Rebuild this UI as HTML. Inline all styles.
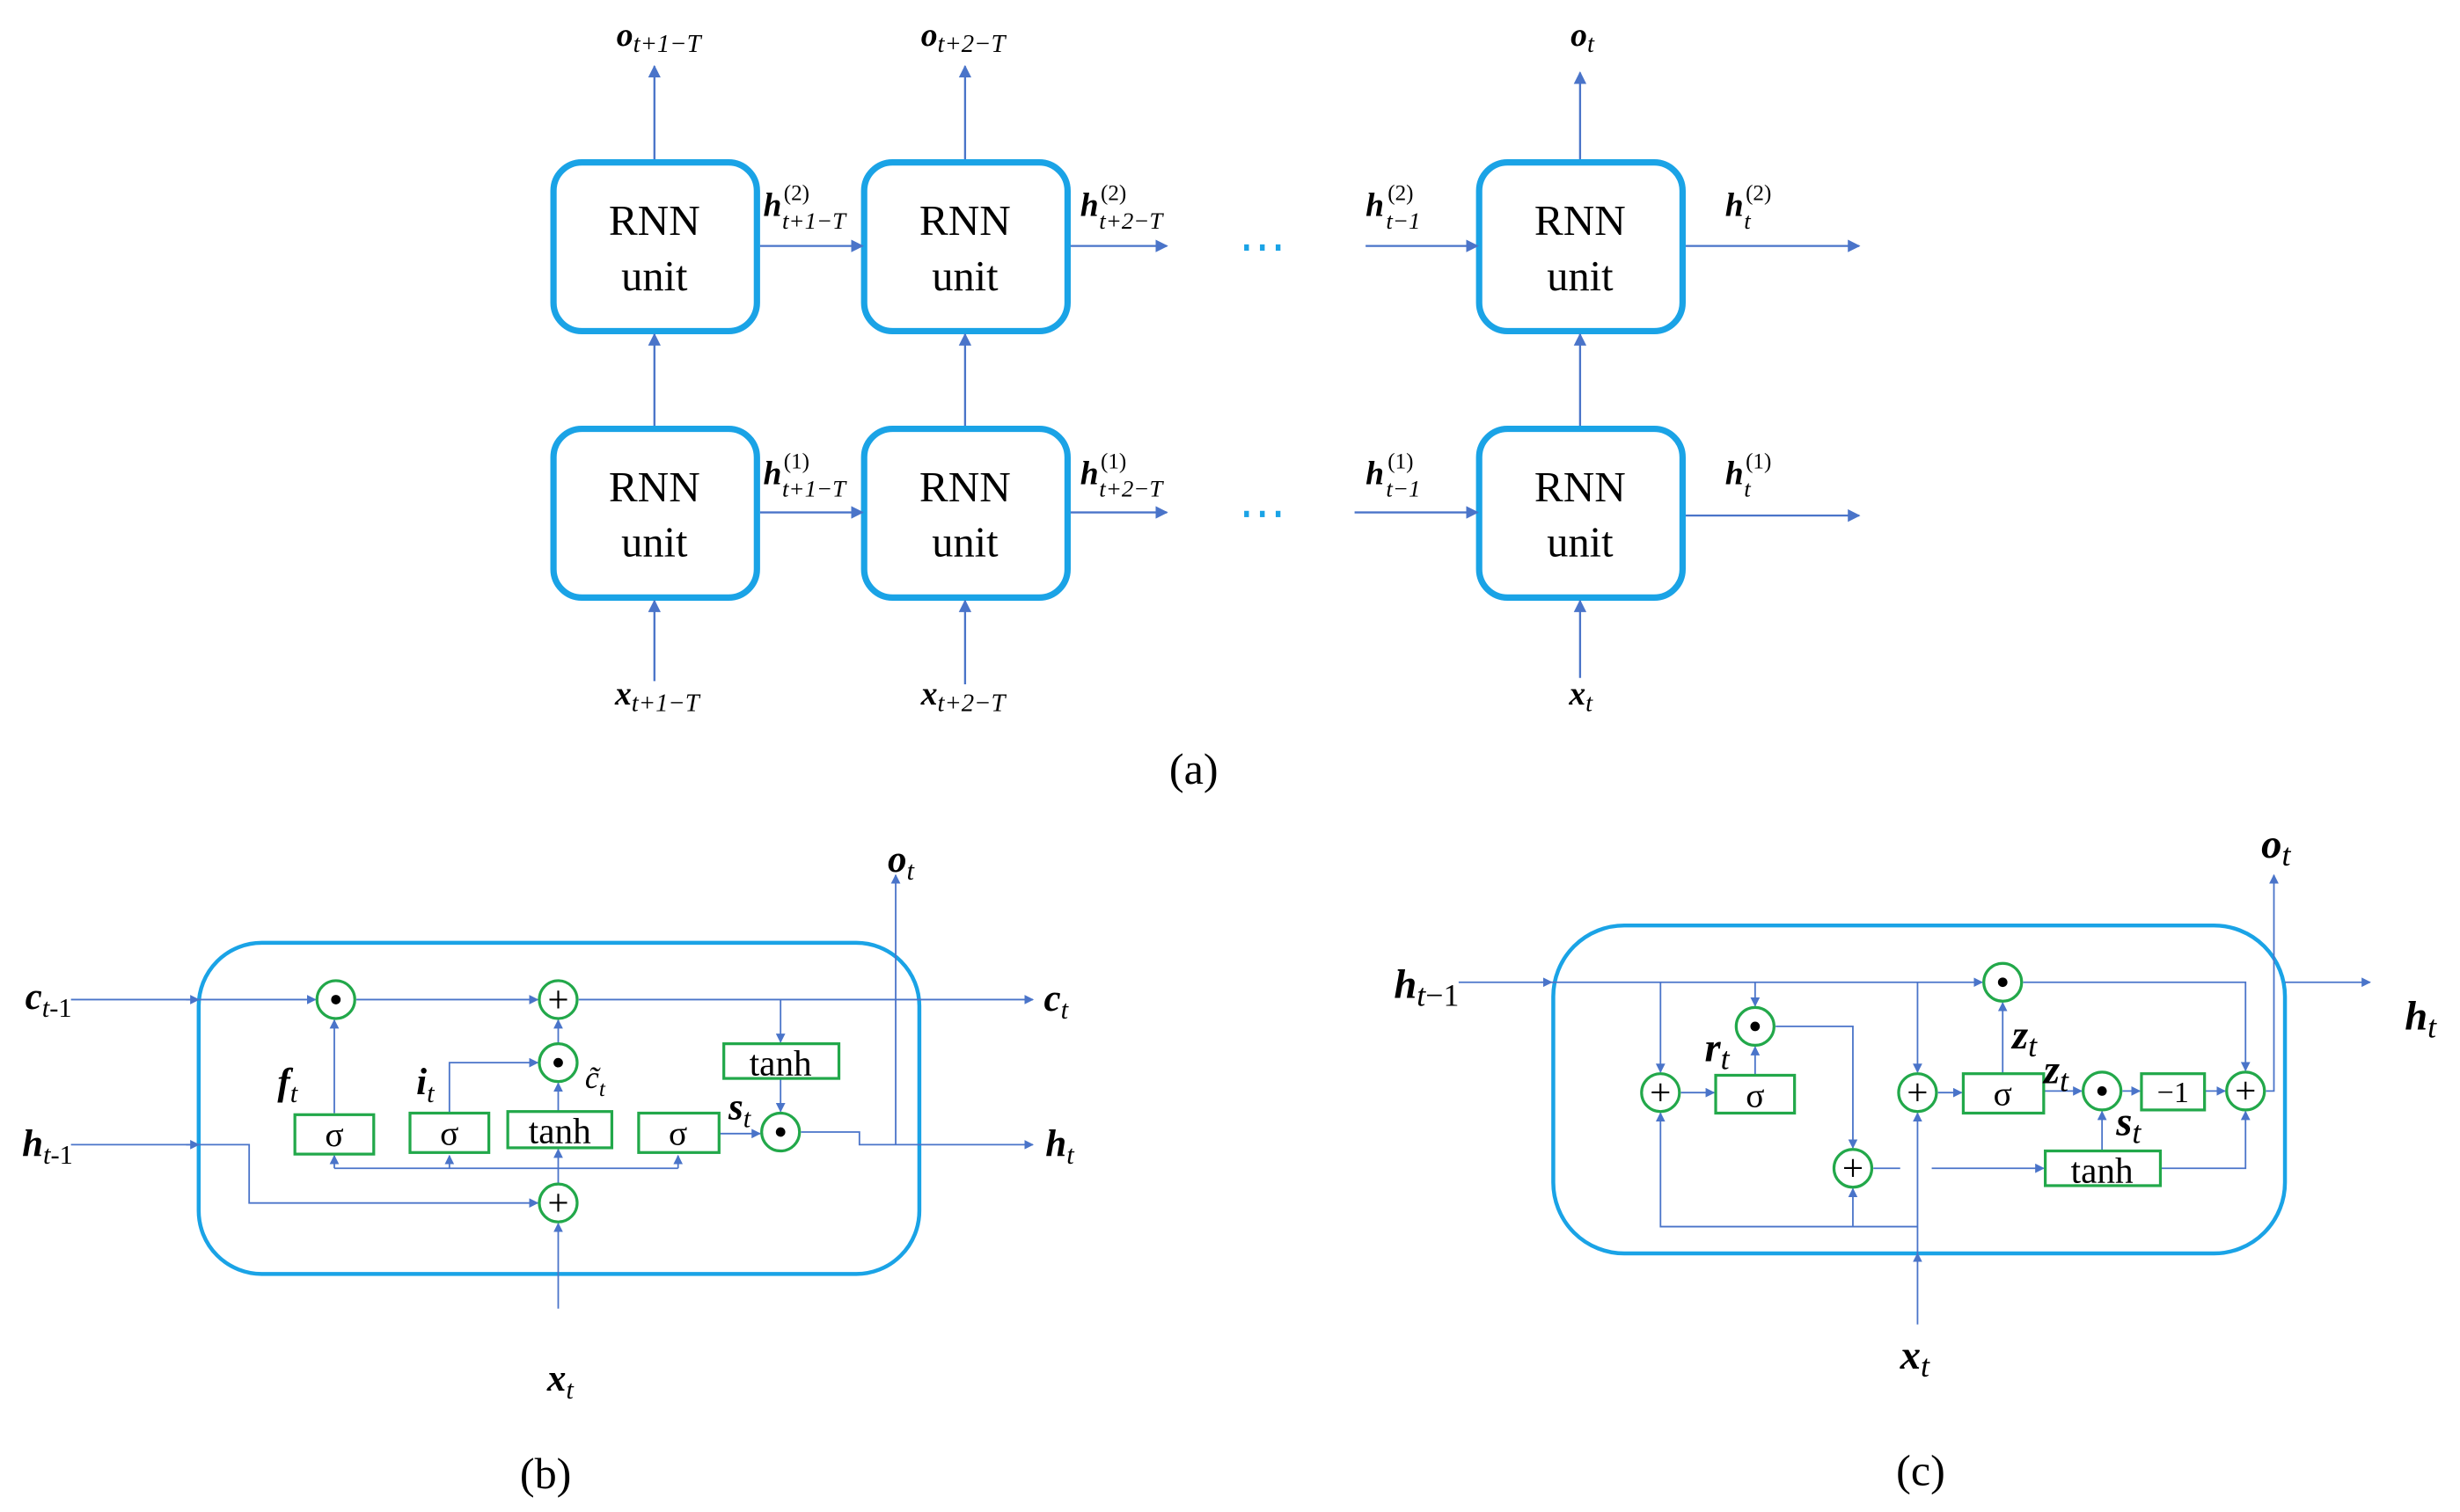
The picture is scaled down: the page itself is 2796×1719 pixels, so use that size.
<!DOCTYPE html>
<html><head><meta charset="utf-8"><style>
html,body{margin:0;padding:0;background:#fff;}
svg{display:block;}
text{font-family:"Liberation Serif",serif;fill:#000;}
.v{font-weight:bold;font-style:italic;}
.s{font-style:italic;font-weight:normal;}
.box{fill:#fff;stroke:#1aa3e6;stroke-width:4;}
.bigbox{fill:none;stroke:#1aa3e6;stroke-width:2.5;}
.ln{fill:none;stroke:#4a74c9;stroke-width:1.3;}
.ln2{fill:none;stroke:#4a74c9;stroke-width:1;}
.g{fill:#fff;stroke:#22a84a;stroke-width:1.8;}
</style></head><body>
<svg width="2796" height="1719" viewBox="0 0 1560 959" preserveAspectRatio="none" xmlns="http://www.w3.org/2000/svg">
<defs>
<marker id="a" viewBox="0 0 10 10" refX="9" refY="5" markerWidth="8" markerHeight="8" markerUnits="userSpaceOnUse" orient="auto"><path d="M0,0L10,5L0,10z" fill="#4a74c9"/></marker>
<marker id="s" viewBox="0 0 10 10" refX="9" refY="5" markerWidth="6" markerHeight="6" markerUnits="userSpaceOnUse" orient="auto"><path d="M0,0L10,5L0,10z" fill="#4a74c9"/></marker>
</defs>

<!-- (a) -->
<g>
<rect class="box" x="351" y="103" width="129" height="107" rx="18"/>
<rect class="box" x="548" y="103" width="129" height="107" rx="18"/>
<rect class="box" x="938" y="103" width="129" height="107" rx="18"/>
<rect class="box" x="351" y="272" width="129" height="107" rx="18"/>
<rect class="box" x="548" y="272" width="129" height="107" rx="18"/>
<rect class="box" x="938" y="272" width="129" height="107" rx="18"/>
<g font-size="27" text-anchor="middle">
<text x="415" y="149" textLength="58" lengthAdjust="spacingAndGlyphs">RNN</text><text x="415" y="184">unit</text>
<text x="612" y="149" textLength="58" lengthAdjust="spacingAndGlyphs">RNN</text><text x="612" y="184">unit</text>
<text x="1002" y="149" textLength="58" lengthAdjust="spacingAndGlyphs">RNN</text><text x="1002" y="184">unit</text>
<text x="415" y="318" textLength="58" lengthAdjust="spacingAndGlyphs">RNN</text><text x="415" y="353">unit</text>
<text x="612" y="318" textLength="58" lengthAdjust="spacingAndGlyphs">RNN</text><text x="612" y="353">unit</text>
<text x="1002" y="318" textLength="58" lengthAdjust="spacingAndGlyphs">RNN</text><text x="1002" y="353">unit</text>
</g>
<g class="ln">
<path d="M415,101V42" marker-end="url(#a)"/><path d="M612,101V42" marker-end="url(#a)"/><path d="M1002,101V46" marker-end="url(#a)"/>
<path d="M415,270V212" marker-end="url(#a)"/><path d="M612,270V212" marker-end="url(#a)"/><path d="M1002,270V212" marker-end="url(#a)"/>
<path d="M415,432V381" marker-end="url(#a)"/><path d="M612,434V381" marker-end="url(#a)"/><path d="M1002,430V381" marker-end="url(#a)"/>
<path d="M482,156H547" marker-end="url(#a)"/><path d="M679,156H740" marker-end="url(#a)"/><path d="M866,156H937" marker-end="url(#a)"/><path d="M1069,156H1179" marker-end="url(#a)"/>
<path d="M482,325H547" marker-end="url(#a)"/><path d="M679,325H740" marker-end="url(#a)"/><path d="M859,325H937" marker-end="url(#a)"/><path d="M1069,327H1179" marker-end="url(#a)"/>
</g>
<g fill="#1aa3e6"><rect x="789" y="155" width="3" height="4"/><rect x="799" y="155" width="3" height="4"/><rect x="809" y="155" width="3" height="4"/>
<rect x="789" y="324" width="3" height="4"/><rect x="799" y="324" width="3" height="4"/><rect x="809" y="324" width="3" height="4"/></g>
<g font-size="21">
<text x="391" y="29"><tspan class="v">o</tspan><tspan class="s" font-size="16" dy="4">t+1−T</tspan></text>
<text x="584" y="29"><tspan class="v">o</tspan><tspan class="s" font-size="16" dy="4">t+2−T</tspan></text>
<text x="996" y="29"><tspan class="v">o</tspan><tspan class="s" font-size="16" dy="4">t</tspan></text>
<text x="390" y="447"><tspan class="v">x</tspan><tspan class="s" font-size="16" dy="4">t+1−T</tspan></text>
<text x="584" y="447"><tspan class="v">x</tspan><tspan class="s" font-size="16" dy="4">t+2−T</tspan></text>
<text x="995" y="447"><tspan class="v">x</tspan><tspan class="s" font-size="16" dy="4">t</tspan></text>
</g>
<g font-size="21">
<text x="484" y="137" class="v">h</text><text x="497" y="127" font-size="14">(2)</text><text x="496" y="145" font-size="15" class="s">t+1−T</text>
<text x="685" y="137" class="v">h</text><text x="698" y="127" font-size="14">(2)</text><text x="697" y="145" font-size="15" class="s">t+2−T</text>
<text x="866" y="137" class="v">h</text><text x="880" y="127" font-size="14">(2)</text><text x="879" y="145" font-size="15" class="s">t−1</text>
<text x="1094" y="137" class="v">h</text><text x="1107" y="127" font-size="14">(2)</text><text x="1106" y="145" font-size="15" class="s">t</text>
<text x="484" y="307" class="v">h</text><text x="497" y="297" font-size="14">(1)</text><text x="496" y="315" font-size="15" class="s">t+1−T</text>
<text x="685" y="307" class="v">h</text><text x="698" y="297" font-size="14">(1)</text><text x="697" y="315" font-size="15" class="s">t+2−T</text>
<text x="866" y="307" class="v">h</text><text x="880" y="297" font-size="14">(1)</text><text x="879" y="315" font-size="15" class="s">t−1</text>
<text x="1094" y="307" class="v">h</text><text x="1107" y="297" font-size="14">(1)</text><text x="1106" y="315" font-size="15" class="s">t</text>
</g>
<text x="757" y="497" font-size="28" text-anchor="middle">(a)</text>
</g>

<!-- (b) LSTM -->
<g>
<rect class="bigbox" x="126" y="598" width="457" height="210" rx="40"/>
<g class="ln2">
<path d="M45,634H200" marker-end="url(#s)"/>
<path d="M226,634H341" marker-end="url(#s)"/>
<path d="M367,634H655" marker-end="url(#s)"/>
<path d="M495,634V661" marker-end="url(#s)"/>
<path d="M495,684V705" marker-end="url(#s)"/>
<path d="M45,726H158V763H341" marker-end="url(#s)"/>
<path d="M354,830V776" marker-end="url(#s)"/>
<path d="M354,751V729" marker-end="url(#s)"/>
<path d="M354,705V687" marker-end="url(#s)"/>
<path d="M354,662V647" marker-end="url(#s)"/>
<path d="M212,706V647" marker-end="url(#s)"/>
<path d="M285,706V674H341" marker-end="url(#s)"/>
<path d="M212,741H430"/>
<path d="M212,741V733" marker-end="url(#s)"/><path d="M285,741V733" marker-end="url(#s)"/><path d="M430,741V733" marker-end="url(#s)"/>
<path d="M456,719H482" marker-end="url(#s)"/>
<path d="M508,718H545V726H655" marker-end="url(#s)"/>
<path d="M568,726V555" marker-end="url(#s)"/>
<path d="M118,634h8" marker-end="url(#s)"/><path d="M118,726h8" marker-end="url(#s)"/>
</g>
<rect class="g" x="187" y="707" width="50" height="25"/><text x="212" y="727" font-size="22" text-anchor="middle">σ</text>
<rect class="g" x="260" y="706" width="50" height="25"/><text x="285" y="726" font-size="22" text-anchor="middle">σ</text>
<rect class="g" x="322" y="705" width="66" height="23"/><text x="355" y="725" font-size="23" text-anchor="middle">tanh</text>
<rect class="g" x="405" y="706" width="51" height="25"/><text x="430" y="726" font-size="22" text-anchor="middle">σ</text>
<rect class="g" x="459" y="662" width="73" height="22"/><text x="495" y="682" font-size="23" text-anchor="middle">tanh</text>
<g font-size="24" text-anchor="middle">
<circle class="g" cx="213" cy="634" r="12"/><circle cx="213" cy="634" r="3"/>
<circle class="g" cx="354" cy="634" r="12"/><text x="354" y="642">+</text>
<circle class="g" cx="354" cy="674" r="12"/><circle cx="354" cy="674" r="3"/>
<circle class="g" cx="354" cy="763" r="12"/><text x="354" y="771">+</text>
<circle class="g" cx="495" cy="718" r="12"/><circle cx="495" cy="718" r="3"/>
</g>
<g font-size="24">
<text x="16" y="640"><tspan class="v">c</tspan><tspan class="s" font-size="17" dy="5">t</tspan><tspan font-size="17">-1</tspan></text>
<text x="14" y="733"><tspan class="v">h</tspan><tspan class="s" font-size="17" dy="5">t</tspan><tspan font-size="17">-1</tspan></text>
<text x="662" y="641"><tspan class="v">c</tspan><tspan class="s" font-size="17" dy="5">t</tspan></text>
<text x="663" y="733"><tspan class="v">h</tspan><tspan class="s" font-size="17" dy="5">t</tspan></text>
<text x="563" y="553"><tspan class="v">o</tspan><tspan class="s" font-size="17" dy="5">t</tspan></text>
<text x="347" y="882"><tspan class="v">x</tspan><tspan class="s" font-size="17" dy="5">t</tspan></text>
<text x="176" y="694"><tspan class="v">f</tspan><tspan class="s" font-size="17" dy="5">t</tspan></text>
<text x="264" y="694"><tspan class="v">i</tspan><tspan class="s" font-size="17" dy="5">t</tspan></text>
<text x="462" y="710"><tspan class="v">s</tspan><tspan class="s" font-size="17" dy="5">t</tspan></text>
<text x="371" y="690" font-size="20" class="s">c̃<tspan font-size="14" dy="5">t</tspan></text>
</g>
<text x="346" y="944" font-size="28" text-anchor="middle">(b)</text>
</g>

<!-- (c) GRU -->
<g>
<rect class="bigbox" x="985" y="587" width="464" height="208" rx="45"/>
<g class="ln2">
<path d="M925,623H1257" marker-end="url(#s)"/>
<path d="M1283,623H1424V679" marker-end="url(#s)"/>
<path d="M1053,623V680" marker-end="url(#s)"/>
<path d="M1113,623V638" marker-end="url(#s)"/>
<path d="M1216,623V680" marker-end="url(#s)"/>
<path d="M1066,693H1087" marker-end="url(#s)"/>
<path d="M1113,682V664" marker-end="url(#s)"/>
<path d="M1126,651H1175V728" marker-end="url(#s)"/>
<path d="M1216,840V706" marker-end="url(#s)"/>
<path d="M1216,778H1053V706" marker-end="url(#s)"/>
<path d="M1175,778V754" marker-end="url(#s)"/>
<path d="M1229,693H1244" marker-end="url(#s)"/>
<path d="M1270,681V636" marker-end="url(#s)"/>
<path d="M1296,692H1320" marker-end="url(#s)"/>
<path d="M1346,692H1357" marker-end="url(#s)"/>
<path d="M1398,692H1411" marker-end="url(#s)"/>
<path d="M1188,741H1205"/>
<path d="M1225,741H1296" marker-end="url(#s)"/>
<path d="M1333,730V705" marker-end="url(#s)"/>
<path d="M1370,741H1424V705" marker-end="url(#s)"/>
<path d="M1437,692H1442V555" marker-end="url(#s)"/>
<path d="M1449,623H1503" marker-end="url(#s)"/>
<path d="M977,623h7" marker-end="url(#s)"/>
<path d="M1216,800v-5" marker-end="url(#s)"/>
</g>
<rect class="g" x="1088" y="682" width="50" height="24"/><text x="1113" y="702" font-size="22" text-anchor="middle">σ</text>
<rect class="g" x="1245" y="681" width="51" height="25"/><text x="1270" y="701" font-size="22" text-anchor="middle">σ</text>
<rect class="g" x="1358" y="681" width="40" height="23"/><text x="1378" y="699" font-size="19" text-anchor="middle">−1</text>
<rect class="g" x="1297" y="730" width="73" height="22"/><text x="1333" y="750" font-size="23" text-anchor="middle">tanh</text>
<g font-size="24" text-anchor="middle">
<circle class="g" cx="1053" cy="693" r="12"/><text x="1053" y="701">+</text>
<circle class="g" cx="1113" cy="651" r="12"/><circle cx="1113" cy="651" r="3"/>
<circle class="g" cx="1175" cy="741" r="12"/><text x="1175" y="749">+</text>
<circle class="g" cx="1216" cy="693" r="12"/><text x="1216" y="701">+</text>
<circle class="g" cx="1270" cy="623" r="12"/><circle cx="1270" cy="623" r="3"/>
<circle class="g" cx="1333" cy="692" r="12"/><circle cx="1333" cy="692" r="3"/>
<circle class="g" cx="1424" cy="692" r="12"/><text x="1424" y="700">+</text>
</g>
<g font-size="26">
<text x="884" y="633"><tspan class="v">h</tspan><tspan class="s" font-size="20" dy="5">t</tspan><tspan font-size="20">−1</tspan></text>
<text x="1525" y="653"><tspan class="v">h</tspan><tspan class="s" font-size="20" dy="5">t</tspan></text>
<text x="1434" y="544"><tspan class="v">o</tspan><tspan class="s" font-size="20" dy="5">t</tspan></text>
<text x="1205" y="868"><tspan class="v">x</tspan><tspan class="s" font-size="20" dy="5">t</tspan></text>
<text x="1081" y="673"><tspan class="v">r</tspan><tspan class="s" font-size="20" dy="5">t</tspan></text>
<text x="1276" y="665"><tspan class="v">z</tspan><tspan class="s" font-size="20" dy="5">t</tspan></text>
<text x="1296" y="687"><tspan class="v">z</tspan><tspan class="s" font-size="20" dy="5">t</tspan></text>
<text x="1342" y="720"><tspan class="v">s</tspan><tspan class="s" font-size="20" dy="5">t</tspan></text>
</g>
<text x="1218" y="942" font-size="28" text-anchor="middle">(c)</text>
</g>
</svg>
</body></html>
